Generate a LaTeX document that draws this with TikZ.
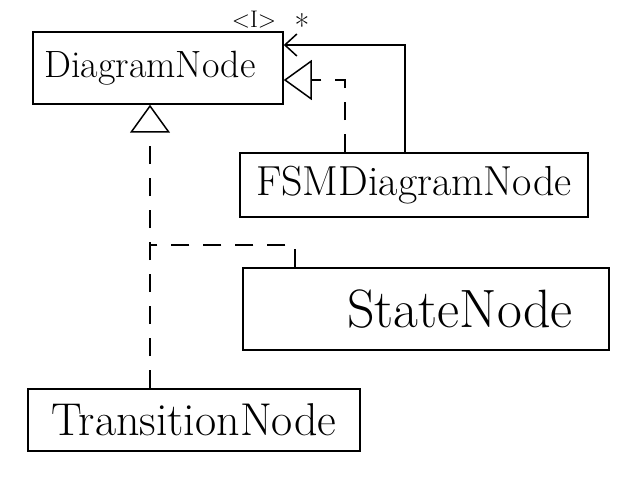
\documentclass[tikz,border=0pt]{standalone}
\usepackage{fontspec}
\usetikzlibrary{arrows.meta}
\begin{document}
\begin{tikzpicture}[x=1pt,y=-1pt,
  box/.style={draw,line width=1.5pt,rectangle,inner sep=0pt},
  conn/.style={line width=1.5pt},
  dsh/.style={conn,dash pattern=on 18pt off 14pt},
  inh/.style={-{Triangle[open,length=28pt,width=40pt,line width=1.5pt]}},
  assoc/.style={-{Straight Barb[length=12pt,width=22pt,line width=1.5pt]}},
  lbl/.style={inner sep=0pt}]
\useasboundingbox (0,0) rectangle (622,478);
\fill[white] (0,0) rectangle (622,478);
\node[box,minimum width=250pt,minimum height=72pt] (dn) at (158,68) {\hspace*{-16pt}\fontsize{38}{40}\selectfont DiagramNode};
\node[box,minimum width=348pt,minimum height=64pt] (fsm) at (414,185) {\fontsize{42}{44}\selectfont FSMDiagramNode};
\node[box,minimum width=366pt,minimum height=82pt] (st) at (426,309) {\hspace*{68pt}\fontsize{54}{56}\selectfont StateNode};
\node[box,minimum width=332pt,minimum height=62pt] (tr) at (194,420) {\fontsize{46}{48}\selectfont TransitionNode};
\coordinate (j) at (150,245);
\coordinate (k) at (295,245);
\coordinate (a) at (345,80);
\coordinate (b) at (405,45);
\draw[dsh,inh] (tr.north -| j) -- (dn.south -| j);
\draw[dsh] (st.north -| k) -- (k) -- (j);
\draw[dsh,inh] (fsm.north -| a) |- (dn.east |- a);
\draw[conn,assoc] (fsm.north -| b) |- (dn.east |- b);
\node[lbl] (tp) at (254,20) {\fontsize{24}{26}\selectfont <I>};
\node[lbl] (mult) at (302,26) {\fontsize{32}{34}\selectfont *};
\end{tikzpicture}
\end{document}
